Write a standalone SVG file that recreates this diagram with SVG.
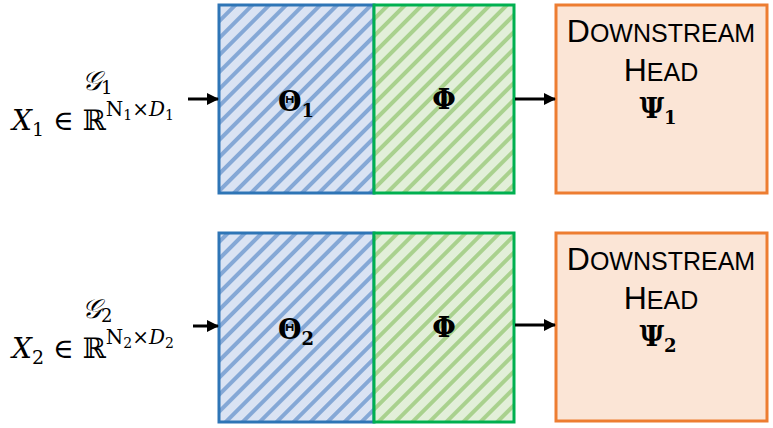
<svg xmlns="http://www.w3.org/2000/svg" width="773" height="428" viewBox="0 0 773 428">
<style>
.t{font-family:"DejaVu Serif","Liberation Serif",serif;fill:#000}
.s{font-family:"Liberation Sans",Arial,sans-serif;fill:#000}
.i{font-style:italic}
.b{font-weight:bold}
</style>
<defs>
<pattern id="hb" patternUnits="userSpaceOnUse" width="12" height="12" patternTransform="rotate(45)">
<rect width="12" height="12" fill="#dae3f3"/><rect x="0" width="4" height="12" fill="#85a8d6"/></pattern>
<pattern id="hg" patternUnits="userSpaceOnUse" width="12" height="12" patternTransform="rotate(45)">
<rect width="12" height="12" fill="#e2efd9"/><rect x="0" width="4" height="12" fill="#a9d18e"/></pattern>
<marker id="a" markerWidth="12" markerHeight="12" refX="11" refY="6" orient="auto" markerUnits="userSpaceOnUse"><path d="M0,0L12,6L0,12z" fill="#000"/></marker>
</defs>
<g id="input1">
<text class="t i" x="82" y="90" font-size="27">𝒢<tspan font-size="18" dy="4" font-style="normal">1</tspan></text>
<text class="t" x="12" y="130" font-size="28"><tspan class="i">X</tspan><tspan font-size="19" dy="6">1</tspan><tspan dy="-6"> ∈ ℝ</tspan><tspan font-size="20" dy="-14">N</tspan><tspan font-size="14" dy="4">1</tspan><tspan font-size="20" dy="-4">×</tspan><tspan font-size="20" class="i">D</tspan><tspan font-size="14" dy="4">1</tspan></text>
</g>
<g id="input2">
<text class="t i" x="82" y="318" font-size="27">𝒢<tspan font-size="18" dy="4" font-style="normal">2</tspan></text>
<text class="t" x="12" y="358" font-size="28"><tspan class="i">X</tspan><tspan font-size="19" dy="6">2</tspan><tspan dy="-6"> ∈ ℝ</tspan><tspan font-size="20" dy="-14">N</tspan><tspan font-size="14" dy="4">2</tspan><tspan font-size="20" dy="-4">×</tspan><tspan font-size="20" class="i">D</tspan><tspan font-size="14" dy="4">2</tspan></text>
</g>
<g id="theta1"><rect x="219" y="5" width="155" height="188" fill="url(#hb)" stroke="#2e75b6" stroke-width="3"/>
<text class="t b" x="296" y="111" font-size="27" text-anchor="middle">Θ<tspan font-size="18" dy="6">1</tspan></text></g>
<g id="phi1"><rect x="374" y="5" width="140" height="188" fill="url(#hg)" stroke="#00b050" stroke-width="3"/>
<text class="t b" x="444" y="109" font-size="27" text-anchor="middle">Φ</text></g>
<g id="head1"><rect x="556" y="5" width="211" height="188" fill="#fbe5d6" stroke="#ed7d31" stroke-width="3"/>
<text class="s" x="661" y="42" font-size="32" text-anchor="middle">D<tspan font-size="25">OWNSTREAM</tspan></text>
<text class="s" x="661" y="81" font-size="32" text-anchor="middle">H<tspan font-size="25">EAD</tspan></text>
<text class="t b" x="658" y="118" font-size="27" text-anchor="middle">Ψ<tspan font-size="18" dy="6">1</tspan></text></g>
<g id="theta2"><rect x="219" y="233" width="155" height="189" fill="url(#hb)" stroke="#2e75b6" stroke-width="3"/>
<text class="t b" x="296" y="339" font-size="27" text-anchor="middle">Θ<tspan font-size="18" dy="6">2</tspan></text></g>
<g id="phi2"><rect x="374" y="233" width="140" height="189" fill="url(#hg)" stroke="#00b050" stroke-width="3"/>
<text class="t b" x="444" y="337" font-size="27" text-anchor="middle">Φ</text></g>
<g id="head2"><rect x="556" y="233" width="211" height="188" fill="#fbe5d6" stroke="#ed7d31" stroke-width="3"/>
<text class="s" x="661" y="270" font-size="32" text-anchor="middle">D<tspan font-size="25">OWNSTREAM</tspan></text>
<text class="s" x="661" y="309" font-size="32" text-anchor="middle">H<tspan font-size="25">EAD</tspan></text>
<text class="t b" x="658" y="346" font-size="27" text-anchor="middle">Ψ<tspan font-size="18" dy="6">2</tspan></text></g>
<g id="connectors" stroke="#000" stroke-width="3" fill="none">
<line x1="188" y1="99" x2="218" y2="99" marker-end="url(#a)"/>
<line x1="515" y1="99" x2="555" y2="99" marker-end="url(#a)"/>
<line x1="193" y1="326" x2="218" y2="326" marker-end="url(#a)"/>
<line x1="515" y1="325" x2="555" y2="325" marker-end="url(#a)"/>
</g>
</svg>
